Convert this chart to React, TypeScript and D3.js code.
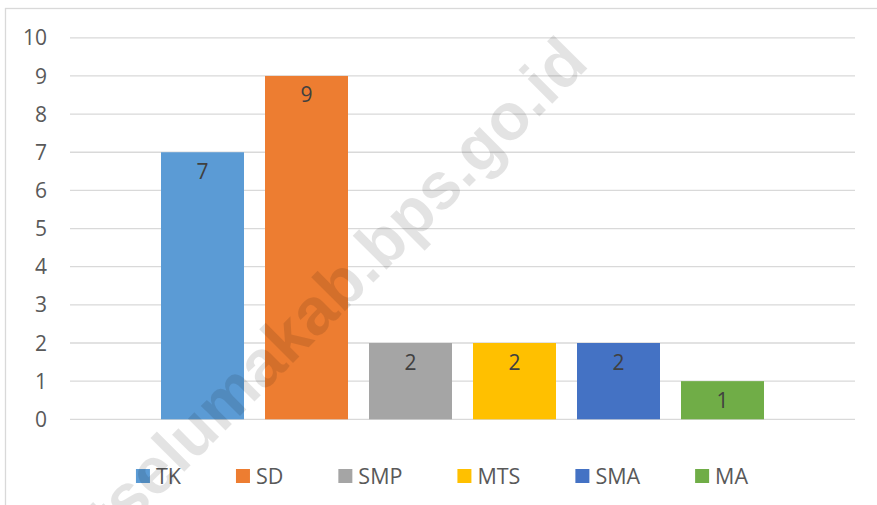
import React, { useEffect, useRef } from 'react';
import * as d3 from 'd3';

// Jumlah sekolah per jenjang
const categories = ['TK', 'SD', 'SMP', 'MTS', 'SMA', 'MA'];
const values = [7, 9, 2, 2, 2, 1];
const colors = ['#5B9BD5', '#ED7D31', '#A5A5A5', '#FFC000', '#4472C4', '#70AD47'];
const yTicks = [0, 1, 2, 3, 4, 5, 6, 7, 8, 9, 10];
const watermark = 'tselumakab.bps.go.id';

const WIDTH = 877;
const HEIGHT = 505;
const FONT = '"Open Sans", "Noto Sans", sans-serif';

function App() {
  const svgRef = useRef<SVGSVGElement | null>(null);

  useEffect(() => {
    if (!svgRef.current) return;
    const svg = d3.select(svgRef.current);
    svg.selectAll('*').remove();

    // Plot area
    const plot = { left: 70, right: 855, top: 37.8, bottom: 419.3 };

    const x = d3.scaleBand<string>()
      .domain(categories)
      .range([plot.left, plot.right])
      .paddingInner(0.202)
      .paddingOuter(0.875);

    const y = d3.scaleLinear()
      .domain([0, 10])
      .range([plot.bottom, plot.top]);

    // Chart border (right/bottom edges fall outside the picture)
    svg.append('rect')
      .attr('x', 5.5)
      .attr('y', 8.5)
      .attr('width', 1000)
      .attr('height', 1000)
      .attr('fill', '#fff')
      .attr('stroke', '#d9d9d9')
      .attr('stroke-width', 1.3);

    // Gridlines
    const grid = svg.append('g');
    yTicks.forEach((t) => {
      grid.append('line')
        .attr('x1', plot.left)
        .attr('x2', plot.right)
        .attr('y1', y(t))
        .attr('y2', y(t))
        .attr('stroke', '#d9d9d9')
        .attr('stroke-width', 1.3);
    });

    // Tick labels
    const ticks = svg.append('g');
    yTicks.forEach((t) => {
      ticks.append('text')
        .attr('x', 47)
        .attr('y', y(t))
        .attr('dy', '0.36em')
        .attr('text-anchor', 'end')
        .attr('font-family', FONT)
        .attr('font-size', 21)
        .attr('fill', '#595959')
        .text(t);
    });

    // Bars + data labels
    const bars = svg.append('g');
    categories.forEach((c, i) => {
      bars.append('rect')
        .attr('x', x(c)!)
        .attr('y', y(values[i]))
        .attr('width', x.bandwidth())
        .attr('height', y(0) - y(values[i]))
        .attr('fill', colors[i]);

      bars.append('text')
        .attr('x', x(c)! + x.bandwidth() / 2)
        .attr('y', y(values[i]) + 26.5)
        .attr('text-anchor', 'middle')
        .attr('font-family', FONT)
        .attr('font-size', 21)
        .attr('fill', '#404040')
        .text(values[i]);
    });

    // Legend
    const legend = svg.append('g');
    const legendY = 476;
    const sw = 14;
    const gap = 6;
    const itemGap = 55;
    const items = categories.map((c, i) => {
      const g = legend.append('g');
      g.append('rect')
        .attr('x', 0)
        .attr('y', legendY - sw / 2)
        .attr('width', sw)
        .attr('height', sw)
        .attr('fill', colors[i]);
      const txt = g.append('text')
        .attr('x', sw + gap)
        .attr('y', legendY)
        .attr('dy', '0.36em')
        .attr('font-family', FONT)
        .attr('font-size', 21.5)
        .attr('fill', '#595959')
        .text(c);
      const w = (txt.node() as SVGTextElement).getComputedTextLength();
      return { g, w: sw + gap + w };
    });
    const total = d3.sum(items, (d) => d.w) + itemGap * (items.length - 1);
    let cx = 442 - total / 2;
    items.forEach((it) => {
      it.g.attr('transform', `translate(${cx},0)`);
      cx += it.w + itemGap;
    });

    // Watermark
    svg.append('text')
      .attr('transform', 'translate(352,304) rotate(-45)')
      .attr('text-anchor', 'middle')
      .attr('font-family', '"Liberation Sans", Arial, sans-serif')
      .attr('font-weight', 'bold')
      .attr('font-size', 66)
      .attr('fill', '#000')
      .attr('fill-opacity', 0.11)
      .text(watermark);
  }, []);

  return (
    <svg
      ref={svgRef}
      width={WIDTH}
      height={HEIGHT}
      style={{ position: 'absolute', left: 0, top: 0, display: 'block', background: '#fff' }}
    />
  );
}

export default App;
